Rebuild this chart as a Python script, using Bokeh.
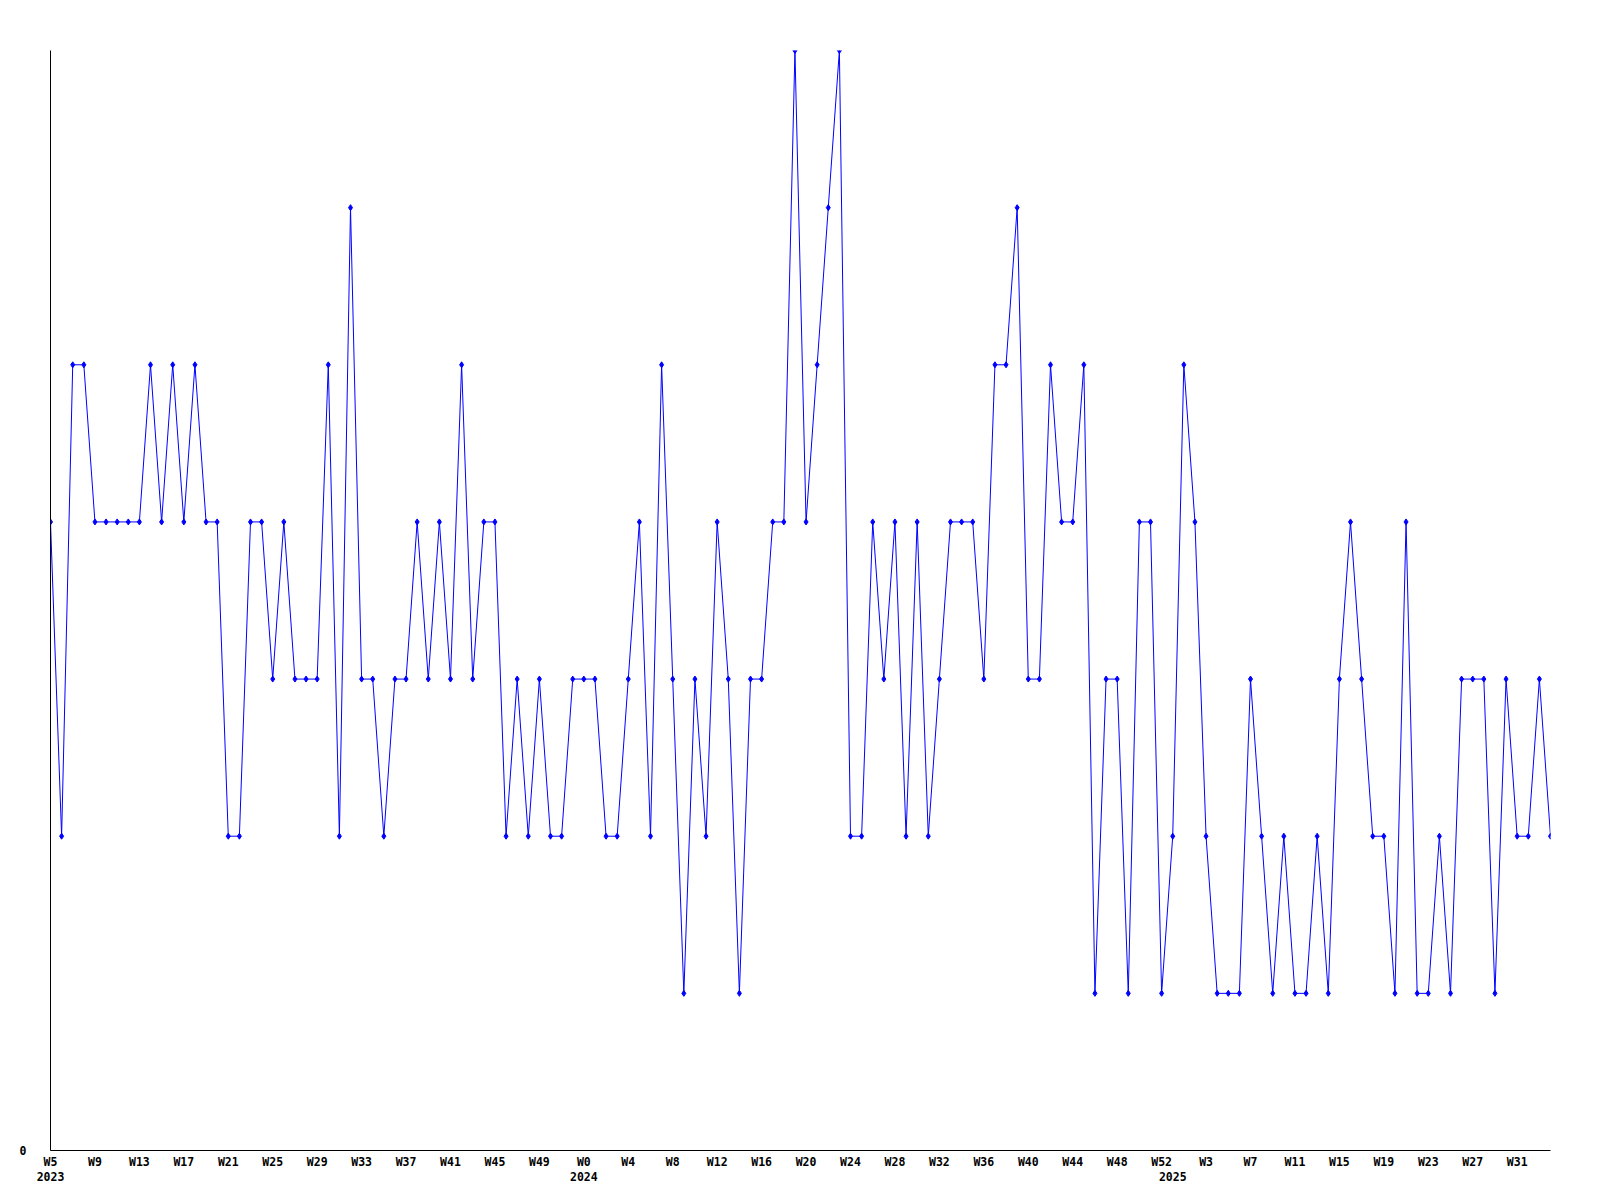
from bokeh.plotting import figure
from bokeh.models import Range1d, FixedTicker, LinearAxis, ColumnDataSource
from bokeh.embed import file_html
from bokeh.resources import INLINE

# Weekly values, 2023 W5 .. 2025 W34
values = [
    4, 2, 5, 5, 4, 4, 4, 4, 4, 5,
    4, 5, 4, 5, 4, 4, 2, 2, 4, 4,
    3, 4, 3, 3, 3, 5, 2, 6, 3, 3,
    2, 3, 3, 4, 3, 4, 3, 5, 3, 4,
    4, 2, 3, 2, 3, 2, 2, 3, 3, 3,
    2, 2, 3, 4, 2, 5, 3, 1, 3, 2,
    4, 3, 1, 3, 3, 4, 4, 7, 4, 5,
    6, 7, 2, 2, 4, 3, 4, 2, 4, 2,
    3, 4, 4, 4, 3, 5, 5, 6, 3, 3,
    5, 4, 4, 5, 1, 3, 3, 1, 4, 4,
    1, 2, 5, 4, 2, 1, 1, 1, 3, 2,
    1, 2, 1, 1, 2, 1, 3, 4, 3, 2,
    2, 1, 4, 1, 1, 2, 1, 3, 3, 3,
    1, 3, 2, 2, 3, 2,
]
week_tick_labels = [
    "W5", "W9", "W13", "W17", "W21", "W25", "W29", "W33", "W37", "W41", "W45", "W49",
    "W0", "W4", "W8", "W12", "W16", "W20", "W24", "W28", "W32", "W36", "W40", "W44",
    "W48", "W52", "W3", "W7", "W11", "W15", "W19", "W23", "W27", "W31",
]
year_labels = ["2023", "2024", "2025"]
year_start_index = [0, 48, 101]
week_tick_step = 4

x = list(range(len(values)))
src = ColumnDataSource(data=dict(x=x, y=values))

FONT = "DejaVu Sans Mono"

p = figure(
    frame_width=1500, frame_height=1100,
    x_range=Range1d(0, len(values) - 1), y_range=Range1d(0, 7),
    output_backend="svg", toolbar_location=None,
    x_axis_location=None, y_axis_location=None,
    min_border_left=50, min_border_right=42, min_border_top=50, min_border_bottom=10,
)
p.outline_line_color = None
p.xgrid.visible = False
p.ygrid.visible = False
p.background_fill_color = "white"
p.border_fill_color = "white"

p.line("x", "y", source=src, line_color="#0000ff", line_width=1)
p.scatter("x", "y", source=src, marker="diamond", size=6, fill_color="#0000ff", line_color="#0000ff")

def style(ax):
    ax.major_tick_line_color = None
    ax.minor_tick_line_color = None
    ax.major_tick_out = 0
    ax.major_tick_in = 0
    ax.major_label_text_font = FONT
    ax.major_label_text_font_style = "bold"
    ax.major_label_text_font_size = "11.5px"
    ax.major_label_text_color = "black"
    ax.axis_line_color = "black"
    ax.axis_line_width = 1

ticks = [i * week_tick_step for i in range(len(week_tick_labels))]
xa = LinearAxis(ticker=FixedTicker(ticks=ticks),
                major_label_overrides={t: l for t, l in zip(ticks, week_tick_labels)})
style(xa)
xa.major_label_standoff = 4
p.add_layout(xa, "below")

ya = LinearAxis(ticker=FixedTicker(ticks=year_start_index),
                major_label_overrides={t: l for t, l in zip(year_start_index, year_labels)})
style(ya)
ya.axis_line_color = None
ya.major_label_standoff = 0
p.add_layout(ya, "below")

yax = LinearAxis(ticker=FixedTicker(ticks=[0]), major_label_overrides={0: "0"})
style(yax)
yax.major_label_standoff = 24
p.add_layout(yax, "left")

open("out.html", "w").write(file_html(p, INLINE))
